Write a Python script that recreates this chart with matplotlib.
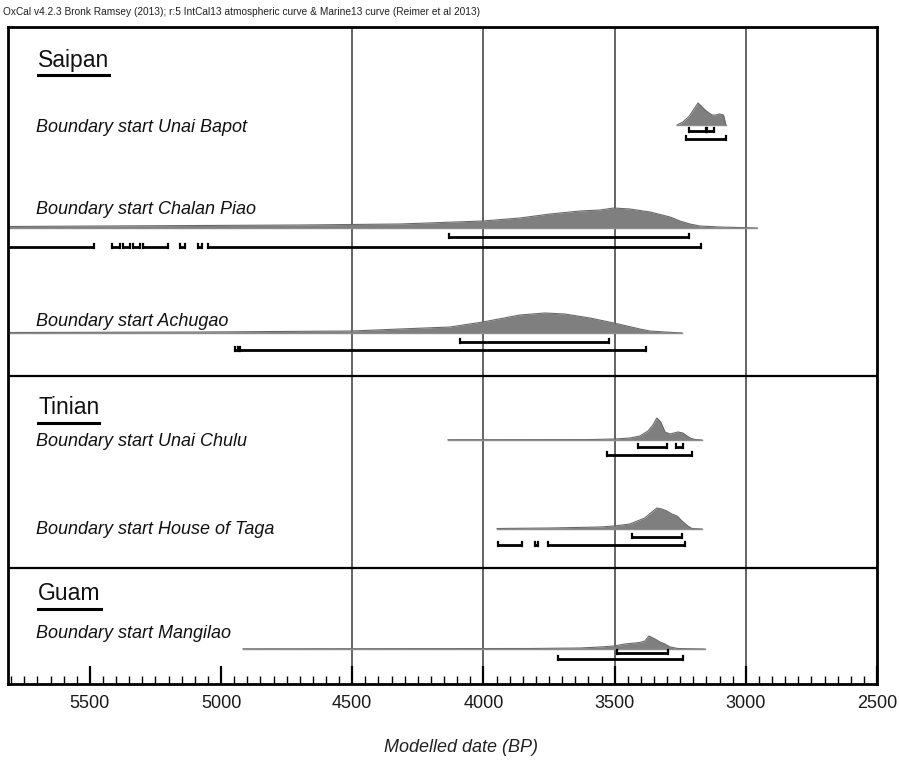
import matplotlib
matplotlib.use("Agg")
import matplotlib.pyplot as plt
from matplotlib.lines import Line2D
import numpy as np

plt.rcParams['font.family'] = ['Liberation Sans', 'DejaVu Sans']

# ---------------- data ----------------
title = "OxCal v4.2.3 Bronk Ramsey (2013); r:5 IntCal13 atmospheric curve & Marine13 curve (Reimer et al 2013)"
xlabel = "Modelled date (BP)"
groups = ["Saipan", "Tinian", "Guam"]
labels = ["Boundary start Unai Bapot", "Boundary start Chalan Piao", "Boundary start Achugao",
          "Boundary start Unai Chulu", "Boundary start House of Taga", "Boundary start Mangilao"]
major_ticks = [5500, 5000, 4500, 4000, 3500, 3000, 2500]
grid_years = [4500, 4000, 3500, 3000]

# relative posterior densities (arbitrary units), year BP vs height
dens_years_bapot = [3262, 3240, 3215, 3195, 3182, 3170, 3155, 3140, 3128, 3115, 3100, 3085, 3076]
dens_vals_bapot = [0, 3, 9, 17, 22, 19, 15, 12, 10, 10, 11, 10, 0]

dens_years_chalan = [5900, 5812, 5461, 5080, 4699, 4318, 4002, 3861, 3746, 3632, 3556, 3503,
                     3442, 3365, 3289, 3251, 3213, 3175, 3099, 2958]
dens_vals_chalan = [1.5, 1.5, 2, 2.5, 3, 4, 7, 10, 14, 17, 18, 20, 19, 16, 11, 7, 4, 2, 1, 0]

dens_years_achugao = [5804, 5080, 4501, 4318, 4128, 4002, 3861, 3766, 3690, 3594, 3503, 3404,
                      3366, 3308, 3243]
dens_vals_achugao = [0.5, 1, 2, 4, 6, 11, 18, 20, 19, 15, 10, 4, 2, 1, 0]

dens_years_chulu = [4135, 3600, 3499, 3442, 3404, 3373, 3354, 3339, 3324, 3308, 3289, 3259,
                    3240, 3213, 3194, 3167]
dens_vals_chulu = [0.3, 0.4, 1, 2, 4, 9, 15, 22, 18, 8, 6, 8, 7, 2, 0.5, 0]

dens_years_taga = [3948, 3746, 3556, 3503, 3442, 3385, 3358, 3339, 3320, 3301, 3282, 3262,
                   3243, 3221, 3205, 3167]
dens_vals_taga = [0.5, 1, 2, 3, 5, 11, 17, 21, 20, 18, 15, 13, 8, 3, 0.5, 0]

dens_years_mangilao = [4916, 3823, 3632, 3556, 3503, 3461, 3404, 3385, 3369, 3346, 3327, 3308,
                       3289, 3259, 3156]
dens_vals_mangilao = [0.2, 0.5, 1, 2, 3, 5, 6.5, 8, 13, 10, 7, 5, 2, 0.5, 0]

# highest posterior density ranges (68.3% and 95.4%), year BP
r68_bapot = [(3217, 3150), (3148, 3122)]
r95_bapot = [(3228, 3076)]
r68_chalan = [(4131, 3217)]
r95_chalan = [(5900, 5484), (5416, 5385), (5374, 5347), (5336, 5309), (5298, 5202),
              (5157, 5137), (5088, 5073), (5050, 3171)]
r68_achugao = [(4089, 3522)]
r95_achugao = [(4947, 4935), (4928, 3381)]
r68_chulu = [(3411, 3301), (3266, 3240)]
r95_chulu = [(3529, 3205)]
r68_taga = [(3434, 3243)]
r95_taga = [(3945, 3853), (3804, 3792), (3754, 3232)]
r68_mangilao = [(3491, 3297)]
r95_mangilao = [(3716, 3240)]

densities = [(dens_years_bapot, dens_vals_bapot), (dens_years_chalan, dens_vals_chalan),
             (dens_years_achugao, dens_vals_achugao), (dens_years_chulu, dens_vals_chulu),
             (dens_years_taga, dens_vals_taga), (dens_years_mangilao, dens_vals_mangilao)]
ranges68 = [r68_bapot, r68_chalan, r68_achugao, r68_chulu, r68_taga, r68_mangilao]
ranges95 = [r95_bapot, r95_chalan, r95_achugao, r95_chulu, r95_taga, r95_mangilao]

# ---------------- layout (pixel-row style vertical coordinates) ----------------
row_base = [125, 228, 333, 440, 529, 649]
row_r68 = [131, 237, 342, 447, 537, 653]
row_r95 = [139, 247, 350, 455, 545, 659]
label_y = [127, 209, 322, 441, 530, 633]
group_y = [60, 407, 593]
separators = [376, 568]

W, H = 899, 764
fig = plt.figure(figsize=(W / 100, H / 100), dpi=100)
ax_l, ax_r, ax_t, ax_b = 8, 877, 27, 684
ax = fig.add_axes([ax_l / W, 1 - ax_b / H, (ax_r - ax_l) / W, (ax_b - ax_t) / H])
ax.set_xlim(5812, 2500)
ax.set_ylim(ax_b, ax_t)

for g in grid_years:
    ax.axvline(g, color='#3a3a3a', lw=1.1, zorder=1)
for s in separators:
    ax.axhline(s, color='black', lw=1.6, zorder=3)

for i, (yrs, vals) in enumerate(densities):
    yrs = np.array(yrs, float)
    vals = np.array(vals, float)
    base = row_base[i]
    ax.fill_between(yrs, base, base - vals, color='#7f7f7f', lw=0, zorder=2)
    ax.plot(yrs, base - vals, color='#6a6a6a', lw=0.8, zorder=2)
    ax.plot([yrs.min(), yrs.max()], [base, base], color='#8c8c8c', lw=1.0, zorder=2)

def draw_ranges(rng, y):
    for a, b in rng:
        ax.plot([a, b], [y, y], color='black', lw=2.0, solid_capstyle='butt', zorder=4)
        ax.plot([a, a], [y + 1, y - 3.5], color='black', lw=1.6, zorder=4)
        ax.plot([b, b], [y + 1, y - 3.5], color='black', lw=1.6, zorder=4)

for i in range(len(labels)):
    draw_ranges(ranges68[i], row_r68[i])
    draw_ranges(ranges95[i], row_r95[i])

for i, lab in enumerate(labels):
    ax.text(5705, label_y[i], lab, fontsize=13, style='italic', va='center', ha='left',
            color='#111111', zorder=5)

gtexts = []
for i, g in enumerate(groups):
    t = ax.text(5697, group_y[i], g, fontsize=16.5, va='center', ha='left', color='#111111', zorder=5)
    gtexts.append(t)

# frame and ticks
for sp in ax.spines.values():
    sp.set_linewidth(2.0)
    sp.set_color('black')
ax.set_yticks([])
ax.set_xticks(major_ticks)
ax.set_xticks(np.arange(2500, 5812, 50), minor=True)
ax.tick_params(axis='x', which='major', direction='in', length=13, width=1.6, labelsize=13,
               pad=8, colors='black')
ax.tick_params(axis='x', which='minor', direction='in', length=6, width=1.0)
ax.set_xticklabels([str(t) for t in major_ticks])
for lbl in ax.get_xticklabels():
    lbl.set_color('#1a1a1a')

fig.text(383 / W + (157 / 2) / W, 1 - 748 / H, xlabel, fontsize=13, style='italic',
         ha='center', va='center', color='#222222')
fig.text(3 / W, 1 - 12 / H, title, fontsize=7.3, ha='left', va='center', color='#222222')

# underline group labels
fig.canvas.draw()
renderer = fig.canvas.get_renderer()
inv = fig.transFigure.inverted()
for t in gtexts:
    bb = t.get_window_extent(renderer)
    x0, y0 = inv.transform((bb.x0, bb.y0 - 4))
    x1, _ = inv.transform((bb.x1, bb.y0 - 4))
    fig.add_artist(Line2D([x0, x1], [y0, y0], color='black', lw=2.2, transform=fig.transFigure))

fig.savefig("out.png", dpi=100)
